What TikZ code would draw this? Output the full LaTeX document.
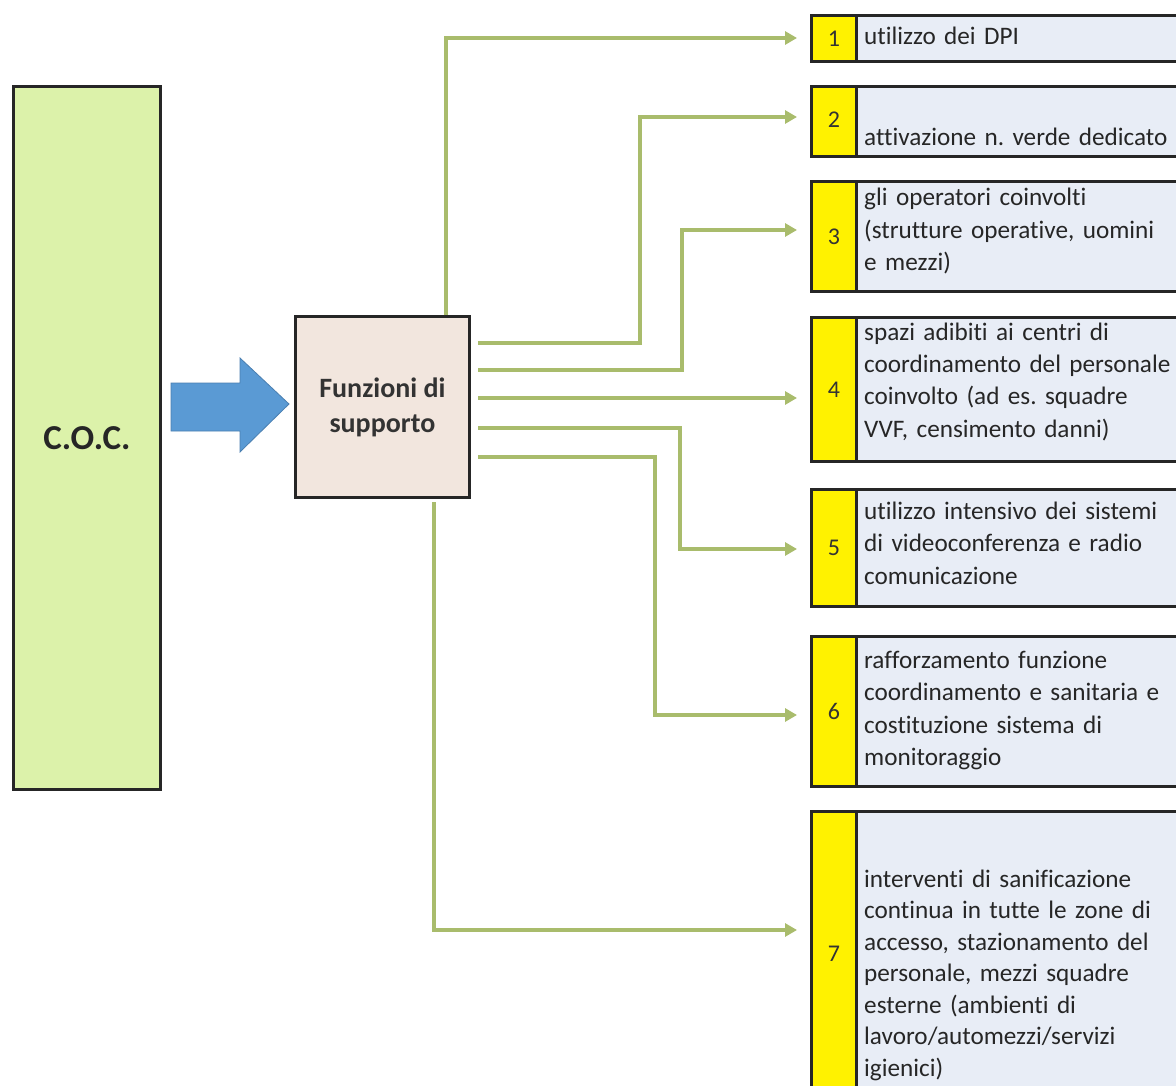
\documentclass[tikz,border=0pt]{standalone}
\usepackage{fontspec}
\setmainfont{Carlito}[Ligatures=NoCommon]
\usetikzlibrary{arrows.meta}
\frenchspacing
\definecolor{cocgreen}{HTML}{DCF2AA}
\definecolor{funbg}{HTML}{F2E6DE}
\definecolor{itembg}{HTML}{E8EDF6}
\definecolor{connc}{HTML}{A9BC6C}
\definecolor{arrowblue}{HTML}{5A9AD4}
\definecolor{arrowedge}{HTML}{4A7FB0}
\tikzset{
  bigbox/.style={draw=black!85, line width=2.8pt, inner sep=0pt},
  itembox/.style={draw=black!85, line width=2.8pt, fill=itembg, inner sep=0pt, minimum width=380pt, anchor=north west},
  numbox/.style={draw=black!85, line width=2.8pt, fill=yellow, inner sep=0pt, minimum width=45pt, anchor=north west, font=\fontsize{24}{26}\selectfont, text=black!80},
  itemtext/.style={anchor=base west, inner sep=0pt, align=left, text width=330pt, font=\fontsize{25.2}{32.5}\selectfont, text=black!85},
  conn/.style={draw=connc, line width=3.5pt, -{Triangle[length=12pt,width=13pt]}, shorten >=13pt},
}
\begin{document}
\begin{tikzpicture}[x=1pt,y=-1pt]
\useasboundingbox[fill=white] (0,0) rectangle (1176,1086);

% C.O.C.
\node[bigbox, fill=cocgreen, minimum width=147pt, minimum height=703pt, anchor=north west, font=\fontsize{35}{38}\selectfont\bfseries, text=black!85] (coc) at (12,85) {C.O.C.};

% Funzioni di supporto
\node[bigbox, fill=funbg, minimum width=174pt, minimum height=181pt, anchor=north west, align=center, font=\fontsize{28}{35}\selectfont\bfseries, text=black!80] (fun) at (294,315) {Funzioni di\\supporto};

% blue arrow
\draw[fill=arrowblue, draw=arrowedge, line width=0.8pt] (171,383) -- (240,383) -- (240,358) -- (289,404) -- (240,452) -- (240,431) -- (171,431) -- cycle;

% items
\node[itembox, minimum height=46pt] (b1) at (810,14) {};
\node[numbox, minimum height=46pt] (n1) at (810,14) {1};
\node[itemtext] (t1) at (864,45) {utilizzo dei DPI};

\node[itembox, minimum height=70pt] (b2) at (810,85) {};
\node[numbox, minimum height=70pt] (n2) at (810,85) {\raisebox{4pt}{2}};
\node[itemtext] (t2) at (864,146) {attivazione n. verde dedicato};

\node[itembox, minimum height=110pt] (b3) at (810,180) {};
\node[numbox, minimum height=110pt] (n3) at (810,180) {3};
\node[itemtext] (t3) at (864,206) {gli operatori coinvolti\\(strutture operative, uomini\\e mezzi)};

\node[itembox, minimum height=144pt] (b4) at (810,316) {};
\node[numbox, minimum height=144pt] (n4) at (810,316) {4};
\node[itemtext] (t4) at (864,340) {spazi adibiti ai centri di\\coordinamento del personale\\coinvolto (ad es. squadre\\VVF, censimento danni)};

\node[itembox, minimum height=117pt] (b5) at (810,488) {};
\node[numbox, minimum height=117pt] (n5) at (810,488) {5};
\node[itemtext] (t5) at (864,519) {utilizzo intensivo dei sistemi\\di videoconferenza e radio\\comunicazione};

\node[itembox, minimum height=150pt] (b6) at (810,635) {};
\node[numbox, minimum height=150pt] (n6) at (810,635) {6};
\node[itemtext] (t6) at (864,668) {rafforzamento funzione\\coordinamento e sanitaria e\\costituzione sistema di\\monitoraggio};

\node[itembox, minimum height=285pt] (b7) at (810,810) {};
\node[numbox, minimum height=285pt] (n7) at (810,810) {7};
\node[itemtext, font=\fontsize{25.2}{31.5}\selectfont] (t7) at (864,887) {interventi di sanificazione\\continua in tutte le zone di\\accesso, stazionamento del\\personale, mezzi squadre\\esterne (ambienti di\\lavoro/automezzi/servizi\\igienici)};

% connector start points
\coordinate (s1) at (fun.north -| 446,0);
\coordinate (s2) at (478,343);
\coordinate (s3) at (478,370);
\coordinate (s4) at (478,398);
\coordinate (s5) at (478,428);
\coordinate (s6) at (478,457);
\coordinate (s7) at (434,502);

\draw[conn] (s1) -- (446,38) -- (n1.west |- 446,38);
\draw[conn] (s2) -- (640,343) -- (640,117) -- (n2.west |- 640,117);
\draw[conn] (s3) -- (682,370) -- (682,230) -- (n3.west |- 682,230);
\draw[conn] (s4) -- (n4.west |- 478,398);
\draw[conn] (s5) -- (680,428) -- (680,549) -- (n5.west |- 680,549);
\draw[conn] (s6) -- (655,457) -- (655,715) -- (n6.west |- 655,715);
\draw[conn] (s7) -- (434,930) -- (n7.west |- 434,930);
\end{tikzpicture}
\end{document}
